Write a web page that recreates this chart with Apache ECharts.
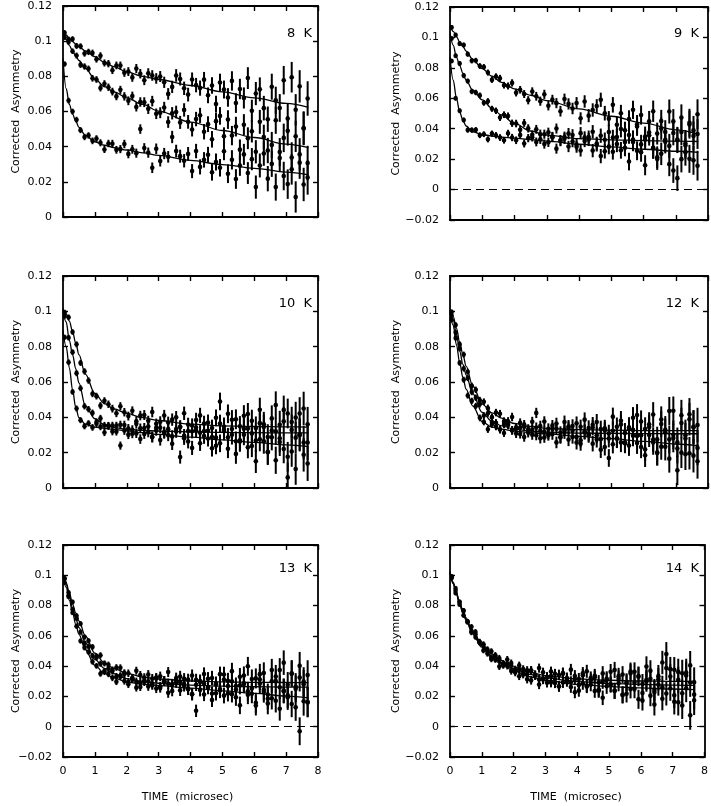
<!DOCTYPE html>
<html><head><meta charset="utf-8">
<script src="https://cdn.jsdelivr.net/npm/echarts@6/dist/echarts.min.js"></script>
<style>html,body{margin:0;padding:0;background:#fff;}#c{width:711px;height:806px;}</style>
</head><body><div id="c"></div>
<script>
const times = [0.05,0.175,0.3,0.425,0.55,0.675,0.8,0.925,1.05,1.175,
1.3,1.425,1.55,1.675,1.8,1.925,2.05,2.175,2.3,2.425,
2.55,2.675,2.8,2.925,3.05,3.175,3.3,3.425,3.55,3.675,
3.8,3.925,4.05,4.175,4.3,4.425,4.55,4.675,4.8,4.925,
5.05,5.175,5.3,5.425,5.55,5.675,5.8,5.925,6.05,6.175,
6.3,6.425,6.55,6.675,6.8,6.925,7.05,7.175,7.3,7.425,
7.55,7.675];
const errs = [0.0015,0.0016,0.0016,0.0017,0.0017,0.0018,0.0018,0.0019,0.0019,0.0020,
0.0020,0.0021,0.0022,0.0022,0.0023,0.0024,0.0025,0.0025,0.0026,0.0027,
0.0028,0.0029,0.0030,0.0030,0.0031,0.0032,0.0033,0.0035,0.0036,0.0037,
0.0038,0.0039,0.0040,0.0041,0.0043,0.0044,0.0045,0.0047,0.0048,0.0050,
0.0051,0.0053,0.0055,0.0056,0.0058,0.0060,0.0062,0.0063,0.0066,0.0068,
0.0070,0.0072,0.0074,0.0077,0.0079,0.0081,0.0084,0.0087,0.0089,0.0092,
0.0095,0.0098];

// 8 K
const a8 = [0.1048,0.1010,0.1012,0.0973,0.0971,0.0930,0.0939,0.0933,0.0897,0.0917,
0.0876,0.0872,0.0835,0.0862,0.0861,0.0821,0.0827,0.0794,0.0844,0.0815,
0.0778,0.0817,0.0805,0.0788,0.0799,0.0766,0.0700,0.0740,0.0805,0.0785,
0.0732,0.0696,0.0782,0.0750,0.0733,0.0781,0.0692,0.0748,0.0642,0.0765,
0.0725,0.0680,0.0774,0.0648,0.0728,0.0677,0.0790,0.0604,0.0702,0.0726,
0.0619,0.0556,0.0741,0.0664,0.0620,0.0778,0.0560,0.0795,0.0610,0.0743,
0.0506,0.0674];
const b8 = [0.1022,0.0995,0.0943,0.0918,0.0865,0.0856,0.0843,0.0789,0.0782,0.0734,
0.0758,0.0738,0.0713,0.0686,0.0723,0.0686,0.0661,0.0688,0.0626,0.0654,
0.0653,0.0615,0.0659,0.0587,0.0593,0.0623,0.0540,0.0590,0.0597,0.0538,
0.0609,0.0541,0.0498,0.0557,0.0578,0.0485,0.0528,0.0442,0.0545,0.0575,
0.0459,0.0554,0.0463,0.0514,0.0383,0.0525,0.0448,0.0487,0.0371,0.0541,
0.0455,0.0378,0.0410,0.0550,0.0335,0.0450,0.0490,0.0271,0.0459,0.0356,
0.0503,0.0307];
const c8 = [0.0870,0.0662,0.0600,0.0553,0.0494,0.0455,0.0464,0.0433,0.0446,0.0422,
0.0384,0.0418,0.0417,0.0382,0.0386,0.0415,0.0359,0.0385,0.0363,0.0500,
0.0392,0.0366,0.0280,0.0388,0.0318,0.0361,0.0342,0.0455,0.0375,0.0346,
0.0320,0.0359,0.0261,0.0375,0.0285,0.0325,0.0354,0.0254,0.0313,0.0280,
0.0374,0.0246,0.0325,0.0216,0.0292,0.0356,0.0250,0.0329,0.0170,0.0293,
0.0361,0.0218,0.0302,0.0170,0.0370,0.0233,0.0187,0.0338,0.0114,0.0309,
0.0185,0.0225];
// 9 K
const a9 = [0.1066,0.1016,0.0959,0.0950,0.0890,0.0847,0.0848,0.0812,0.0806,0.0769,
0.0721,0.0743,0.0732,0.0686,0.0681,0.0701,0.0637,0.0656,0.0628,0.0587,
0.0644,0.0613,0.0581,0.0626,0.0551,0.0591,0.0568,0.0515,0.0595,0.0563,
0.0533,0.0569,0.0468,0.0579,0.0486,0.0523,0.0549,0.0590,0.0502,0.0466,
0.0557,0.0426,0.0502,0.0390,0.0463,0.0524,0.0415,0.0490,0.0329,0.0449,
0.0515,0.0368,0.0450,0.0315,0.0513,0.0372,0.0324,0.0473,0.0246,0.0439,
0.0389,0.0495];
const b9 = [0.0993,0.0880,0.0829,0.0749,0.0713,0.0645,0.0638,0.0619,0.0570,0.0581,
0.0531,0.0518,0.0473,0.0492,0.0484,0.0436,0.0434,0.0393,0.0438,0.0402,
0.0360,0.0396,0.0330,0.0364,0.0376,0.0344,0.0401,0.0320,0.0345,0.0368,
0.0316,0.0281,0.0371,0.0342,0.0329,0.0380,0.0295,0.0354,0.0252,0.0378,
0.0342,0.0299,0.0398,0.0275,0.0359,0.0312,0.0428,0.0246,0.0348,0.0375,
0.0272,0.0212,0.0401,0.0327,0.0287,0.0448,0.0075,0.0378,0.0290,0.0427,
0.0192,0.0365];
const c9 = [0.0845,0.0600,0.0518,0.0457,0.0391,0.0391,0.0393,0.0357,0.0364,0.0330,
0.0368,0.0357,0.0342,0.0324,0.0370,0.0342,0.0324,0.0358,0.0303,0.0338,
0.0344,0.0313,0.0364,0.0299,0.0311,0.0347,0.0269,0.0324,0.0336,0.0283,
0.0359,0.0296,0.0257,0.0320,0.0345,0.0256,0.0302,0.0220,0.0327,0.0282,
0.0248,0.0346,0.0258,0.0312,0.0184,0.0329,0.0255,0.0297,0.0160,0.0357,
0.0274,0.0201,0.0235,0.0379,0.0167,0.0125,0.0328,0.0200,0.0302,0.0202,
0.0352,0.0157];
// 10 K
const a10 = [0.0994,0.0966,0.0883,0.0813,0.0708,0.0660,0.0608,0.0533,0.0520,0.0466,
0.0494,0.0474,0.0449,0.0423,0.0463,0.0429,0.0407,0.0437,0.0378,0.0410,
0.0413,0.0380,0.0430,0.0363,0.0375,0.0410,0.0333,0.0387,0.0400,0.0346,
0.0423,0.0359,0.0321,0.0385,0.0411,0.0323,0.0371,0.0289,0.0397,0.0490,
0.0321,0.0420,0.0334,0.0389,0.0263,0.0409,0.0337,0.0380,0.0269,0.0443,
0.0361,0.0289,0.0325,0.0470,0.0260,0.0378,0.0422,0.0207,0.0399,0.0299,
0.0450,0.0257];
const b10 = [0.0973,0.0851,0.0769,0.0650,0.0565,0.0463,0.0446,0.0425,0.0374,0.0394,
0.0354,0.0353,0.0320,0.0353,0.0358,0.0325,0.0337,0.0307,0.0363,0.0338,
0.0306,0.0348,0.0288,0.0326,0.0341,0.0311,0.0371,0.0292,0.0320,0.0345,
0.0296,0.0263,0.0354,0.0326,0.0313,0.0365,0.0280,0.0340,0.0239,0.0365,
0.0330,0.0287,0.0386,0.0264,0.0349,0.0302,0.0419,0.0238,0.0339,0.0367,
0.0264,0.0205,0.0394,0.0321,0.0281,0.0442,0.0060,0.0373,0.0285,0.0422,
0.0188,0.0361];
const c10 = [0.0853,0.0712,0.0544,0.0450,0.0384,0.0350,0.0366,0.0343,0.0364,0.0347,
0.0314,0.0351,0.0353,0.0319,0.0240,0.0357,0.0302,0.0330,0.0309,0.0277,
0.0340,0.0316,0.0289,0.0341,0.0271,0.0316,0.0298,0.0250,0.0334,0.0175,
0.0282,0.0323,0.0227,0.0342,0.0253,0.0294,0.0324,0.0225,0.0285,0.0253,
0.0348,0.0222,0.0301,0.0193,0.0270,0.0335,0.0230,0.0309,0.0151,0.0276,
0.0345,0.0202,0.0287,0.0157,0.0358,0.0221,0.0177,0.0329,0.0107,0.0304,
0.0257,0.0138];
// 12 K
const a12 = [0.0996,0.0923,0.0814,0.0755,0.0658,0.0578,0.0556,0.0497,0.0488,0.0452,
0.0401,0.0427,0.0420,0.0378,0.0378,0.0402,0.0343,0.0369,0.0347,0.0313,
0.0375,0.0425,0.0324,0.0376,0.0307,0.0353,0.0336,0.0289,0.0374,0.0348,
0.0324,0.0366,0.0270,0.0387,0.0299,0.0342,0.0374,0.0276,0.0338,0.0308,
0.0404,0.0279,0.0360,0.0253,0.0332,0.0398,0.0295,0.0376,0.0219,0.0345,
0.0416,0.0275,0.0362,0.0233,0.0436,0.0301,0.0258,0.0412,0.0191,0.0389,
0.0344,0.0227];
const b12 = [0.0978,0.0880,0.0789,0.0676,0.0622,0.0543,0.0511,0.0475,0.0410,0.0423,
0.0374,0.0369,0.0332,0.0361,0.0363,0.0326,0.0336,0.0305,0.0359,0.0334,
0.0301,0.0342,0.0282,0.0319,0.0335,0.0305,0.0365,0.0286,0.0314,0.0339,
0.0289,0.0257,0.0347,0.0319,0.0306,0.0358,0.0274,0.0334,0.0232,0.0170,
0.0324,0.0282,0.0381,0.0259,0.0343,0.0296,0.0413,0.0232,0.0334,0.0361,
0.0258,0.0199,0.0388,0.0315,0.0275,0.0437,0.0223,0.0368,0.0280,0.0417,
0.0183,0.0356];
const c12 = [0.0952,0.0849,0.0708,0.0613,0.0523,0.0493,0.0464,0.0397,0.0374,0.0332,
0.0361,0.0348,0.0331,0.0311,0.0356,0.0327,0.0308,0.0342,0.0288,0.0323,
0.0330,0.0299,0.0351,0.0286,0.0299,0.0335,0.0258,0.0314,0.0327,0.0274,
0.0351,0.0289,0.0251,0.0315,0.0340,0.0251,0.0299,0.0217,0.0325,0.0280,
0.0247,0.0346,0.0258,0.0312,0.0240,0.0329,0.0255,0.0298,0.0185,0.0300,
0.0274,0.0200,0.0234,0.0330,0.0166,0.0283,0.0100,0.0200,0.0298,0.0197,
0.0346,0.0151];
// 13 K
const a13 = [0.0978,0.0859,0.0824,0.0733,0.0680,0.0592,0.0567,0.0527,0.0465,0.0472,
0.0418,0.0409,0.0368,0.0391,0.0389,0.0348,0.0353,0.0319,0.0370,0.0341,
0.0305,0.0345,0.0283,0.0319,0.0333,0.0302,0.0361,0.0281,0.0308,0.0332,
0.0282,0.0248,0.0338,0.0309,0.0296,0.0348,0.0263,0.0322,0.0221,0.0347,
0.0311,0.0269,0.0367,0.0245,0.0330,0.0282,0.0399,0.0218,0.0319,0.0347,
0.0244,0.0185,0.0374,0.0301,0.0261,0.0423,0.0208,0.0353,0.0265,0.0402,
0.0168,0.0341];
const b13 = [0.0978,0.0886,0.0774,0.0715,0.0625,0.0552,0.0529,0.0468,0.0456,0.0416,
0.0361,0.0385,0.0376,0.0333,0.0332,0.0355,0.0296,0.0321,0.0298,0.0263,
0.0325,0.0300,0.0274,0.0325,0.0256,0.0301,0.0284,0.0236,0.0321,0.0294,
0.0270,0.0311,0.0215,0.0105,0.0243,0.0285,0.0316,0.0219,0.0280,0.0249,
0.0345,0.0220,0.0300,0.0194,0.0272,0.0338,0.0234,0.0315,0.0158,0.0284,
0.0355,0.0213,0.0300,0.0171,0.0374,0.0238,0.0195,0.0349,0.0128,0.0325,
0.0280,0.0163];
const c13 = [0.0952,0.0867,0.0753,0.0664,0.0566,0.0522,0.0493,0.0429,0.0402,0.0350,
0.0368,0.0348,0.0323,0.0297,0.0337,0.0302,0.0281,0.0313,0.0258,0.0291,
0.0297,0.0266,0.0318,0.0252,0.0265,0.0301,0.0224,0.0279,0.0293,0.0240,
0.0316,0.0253,0.0214,0.0277,0.0302,0.0213,0.0259,0.0177,0.0284,0.0239,
0.0205,0.0303,0.0215,0.0269,0.0141,0.0286,0.0211,0.0253,0.0140,0.0312,
0.0229,0.0154,0.0188,0.0331,0.0119,0.0235,0.0277,0.0150,0.0250,-0.0030,
0.0298,0.0160];
// 14 K
const a14 = [0.0984,0.0914,0.0823,0.0767,0.0694,0.0660,0.0626,0.0561,0.0539,0.0483,
0.0498,0.0472,0.0441,0.0409,0.0444,0.0404,0.0378,0.0405,0.0345,0.0373,
0.0373,0.0338,0.0387,0.0318,0.0330,0.0365,0.0288,0.0342,0.0355,0.0301,
0.0377,0.0314,0.0276,0.0340,0.0366,0.0278,0.0326,0.0245,0.0352,0.0308,
0.0276,0.0375,0.0289,0.0344,0.0218,0.0364,0.0292,0.0335,0.0223,0.0397,
0.0316,0.0243,0.0279,0.0424,0.0480,0.0332,0.0376,0.0161,0.0353,0.0254,
0.0405,0.0212];
const b14 = [0.0993,0.0900,0.0807,0.0765,0.0694,0.0631,0.0610,0.0557,0.0545,0.0503,
0.0446,0.0466,0.0452,0.0405,0.0401,0.0420,0.0358,0.0379,0.0352,0.0313,
0.0369,0.0341,0.0312,0.0360,0.0290,0.0334,0.0315,0.0266,0.0349,0.0321,
0.0295,0.0335,0.0238,0.0353,0.0265,0.0306,0.0337,0.0238,0.0298,0.0267,
0.0363,0.0237,0.0317,0.0210,0.0288,0.0353,0.0250,0.0330,0.0173,0.0299,
0.0369,0.0228,0.0314,0.0185,0.0387,0.0252,0.0208,0.0362,0.0140,0.0338,
0.0292,0.0175];
const c14 = [0.0983,0.0883,0.0824,0.0736,0.0692,0.0622,0.0592,0.0561,0.0504,0.0511,
0.0456,0.0443,0.0397,0.0418,0.0413,0.0368,0.0371,0.0333,0.0380,0.0347,
0.0306,0.0343,0.0278,0.0311,0.0325,0.0292,0.0349,0.0267,0.0292,0.0315,
0.0262,0.0227,0.0315,0.0285,0.0271,0.0321,0.0236,0.0294,0.0191,0.0316,
0.0280,0.0237,0.0334,0.0211,0.0295,0.0247,0.0363,0.0181,0.0282,0.0309,
0.0205,0.0146,0.0334,0.0260,0.0219,0.0380,0.0165,0.0309,0.0221,0.0357,
0.0075,0.0294];

// fitted curves, sampled at fitT
const fitT = [0,0.1,0.2,0.3,0.4,0.5,0.7,1,1.3,1.6,2,2.5,3,4,5,6,7,7.7];
const fa8 = [0.1055,0.1035,0.1015,0.0998,0.0982,0.0968,0.0945,0.0912,0.0880,0.0855,0.0825,0.0800,0.0782,0.0748,0.0712,0.0678,0.0646,0.0624];
const fb8 = [0.1045,0.1010,0.0975,0.0945,0.0915,0.0890,0.0845,0.0785,0.0742,0.0712,0.0678,0.0640,0.0602,0.0540,0.0492,0.0452,0.0415,0.0394];
const fc8 = [0.0900,0.0730,0.0640,0.0585,0.0545,0.0510,0.0465,0.0428,0.0408,0.0395,0.0381,0.0365,0.0350,0.0322,0.0298,0.0277,0.0255,0.0240];
const fa9 = [0.1075,0.1040,0.1005,0.0970,0.0940,0.0910,0.0858,0.0795,0.0745,0.0705,0.0662,0.0620,0.0585,0.0530,0.0482,0.0437,0.0393,0.0365];
const fb9 = [0.1030,0.0950,0.0870,0.0815,0.0765,0.0720,0.0655,0.0590,0.0535,0.0490,0.0435,0.0385,0.0358,0.0335,0.0327,0.0322,0.0318,0.0316];
const fc9 = [0.0870,0.0720,0.0600,0.0510,0.0455,0.0418,0.0380,0.0362,0.0352,0.0345,0.0338,0.0328,0.0318,0.0298,0.0280,0.0265,0.0252,0.0245];
const fa10 = [0.1015,0.0985,0.0945,0.0885,0.0820,0.0755,0.0645,0.0535,0.0478,0.0448,0.0422,0.0398,0.0382,0.0362,0.0352,0.0348,0.0346,0.0345];
const fb10 = [0.1000,0.0940,0.0835,0.0755,0.0675,0.0595,0.0465,0.0392,0.0358,0.0342,0.0332,0.0326,0.0322,0.0318,0.0315,0.0313,0.0312,0.0312];
const fc10 = [0.0890,0.0800,0.0680,0.0555,0.0455,0.0398,0.0362,0.0345,0.0338,0.0332,0.0323,0.0313,0.0303,0.0288,0.0272,0.0258,0.0244,0.0235];
const fa12 = [0.1005,0.0970,0.0905,0.0825,0.0755,0.0690,0.0580,0.0475,0.0425,0.0395,0.0365,0.0348,0.0338,0.0330,0.0327,0.0325,0.0325,0.0325];
const fb12 = [0.1000,0.0950,0.0870,0.0775,0.0700,0.0640,0.0535,0.0428,0.0378,0.0352,0.0333,0.0322,0.0316,0.0311,0.0309,0.0308,0.0307,0.0307];
const fc12 = [0.0995,0.0920,0.0810,0.0710,0.0625,0.0560,0.0465,0.0375,0.0345,0.0333,0.0322,0.0314,0.0306,0.0292,0.0279,0.0264,0.0249,0.0238];
const fa13 = [0.1000,0.0950,0.0885,0.0810,0.0752,0.0698,0.0600,0.0485,0.0422,0.0385,0.0352,0.0328,0.0315,0.0302,0.0296,0.0293,0.0292,0.0291];
const fb13 = [0.1000,0.0940,0.0865,0.0785,0.0715,0.0655,0.0555,0.0445,0.0385,0.0350,0.0318,0.0298,0.0287,0.0275,0.0268,0.0264,0.0262,0.0261];
const fc13 = [0.0995,0.0920,0.0835,0.0755,0.0675,0.0610,0.0510,0.0405,0.0352,0.0322,0.0295,0.0281,0.0272,0.0255,0.0237,0.0220,0.0202,0.0190];
const fa14 = [0.1025,0.0955,0.0885,0.0825,0.0770,0.0720,0.0635,0.0545,0.0482,0.0438,0.0395,0.0360,0.0338,0.0316,0.0307,0.0302,0.0300,0.0300];
const fb14 = [0.1020,0.0950,0.0880,0.0818,0.0762,0.0712,0.0625,0.0535,0.0470,0.0425,0.0382,0.0345,0.0322,0.0298,0.0286,0.0279,0.0275,0.0273];
const fc14 = [0.1015,0.0945,0.0875,0.0810,0.0755,0.0705,0.0618,0.0525,0.0460,0.0415,0.0370,0.0330,0.0307,0.0280,0.0265,0.0256,0.0249,0.0245];

const panelLabels = ['8  K','9  K','10  K','12  K','13  K','14  K'];
const yMins = [0,-0.02,0,0,-0.02,-0.02];
const yMax = 0.12;
const yStep = 0.02;
const xMax = 8;
const yTitle = 'Corrected  Asymmetry';
const xTitle = 'TIME  (microsec)';
const pointSets = [[a8,b8,c8],[a9,b9,c9],[a10,b10,c10],[a12,b12,c12],[a13,b13,c13],[a14,b14,c14]];
const fitSets = [[fa8,fb8,fc8],[fa9,fb9,fc9],[fa10,fb10,fc10],[fa12,fb12,fc12],[fa13,fb13,fc13],[fa14,fb14,fc14]];

// layout
const FONT = '"DejaVu Sans", Verdana, sans-serif';
const layout = [
  {left:63, top:6, width:255, height:211},
  {left:450, top:7, width:258, height:213},
  {left:63, top:276, width:255, height:212},
  {left:450, top:276, width:258, height:212},
  {left:63, top:545, width:255, height:212},
  {left:450, top:545, width:258, height:212}
];
const AX = {color:'#000', width:1.8};
const TK = {inside:true, length:5, lineStyle:{color:'#000', width:1.4}};

const grid = layout.map(l => ({left:l.left, top:l.top, width:l.width, height:l.height}));
const xAxis = [], yAxis = [], series = [];
const fmtY = v => String(Math.round(v*1000)/1000).replace('-', '\u2212');

layout.forEach((l, i) => {
  xAxis.push({gridIndex:i, type:'value', min:0, max:xMax, interval:1, position:'bottom',
    axisLine:{show:true, onZero:false, lineStyle:AX}, axisTick:TK, splitLine:{show:false},
    axisLabel:{show:i>=4, margin:9, color:'#000', fontSize:11, fontFamily:FONT}});
  xAxis.push({gridIndex:i, type:'value', min:0, max:xMax, interval:1, position:'top',
    axisLine:{show:true, onZero:false, lineStyle:AX}, axisTick:TK, splitLine:{show:false},
    axisLabel:{show:false}});
  yAxis.push({gridIndex:i, type:'value', min:yMins[i], max:yMax, interval:yStep, position:'left',
    axisLine:{show:true, onZero:false, lineStyle:AX}, axisTick:TK, splitLine:{show:false},
    axisLabel:{show:true, margin:11, color:'#000', fontSize:11, fontFamily:FONT, formatter:fmtY}});
  yAxis.push({gridIndex:i, type:'value', min:yMins[i], max:yMax, interval:yStep, position:'right',
    axisLine:{show:true, onZero:false, lineStyle:AX}, axisTick:TK, splitLine:{show:false},
    axisLabel:{show:false}});

  pointSets[i].forEach(vals => {
    series.push({
      type:'custom', xAxisIndex:2*i, yAxisIndex:2*i, clip:true, silent:true, z:3,
      data: times.map((t, j) => [t, vals[j], errs[j]]),
      renderItem: (params, api) => {
        const x = api.value(0), y = api.value(1), e = api.value(2);
        const p = api.coord([x, y]);
        const hi = api.coord([x, y + e]);
        const lo = api.coord([x, y - e]);
        return {type:'group', children:[
          {type:'line', shape:{x1:p[0], y1:hi[1], x2:p[0], y2:lo[1]}, style:{stroke:'#000', lineWidth:2}},
          {type:'circle', shape:{cx:p[0], cy:p[1], r:2.3}, style:{fill:'#000'}}
        ]};
      }
    });
  });
  fitSets[i].forEach((f, k) => {
    const s = {
      type:'line', xAxisIndex:2*i, yAxisIndex:2*i, silent:true, z:4,
      data: fitT.map((t, j) => [t, f[j]]),
      smooth:0.35, smoothMonotone:'x', symbol:'none', showSymbol:false,
      lineStyle:{color:'#000', width:1.3}
    };
    if (k === 0 && yMins[i] < 0) {
      s.markLine = {silent:true, symbol:'none', label:{show:false}, animation:false,
        lineStyle:{type:[8,5], color:'#000', width:1}, data:[{yAxis:0}]};
    }
    series.push(s);
  });
});

const title = panelLabels.map((txt, i) => ({
  text: txt, padding:0,
  right: (i % 2 === 0) ? 399 : 12,
  top: [27, 297, 562][Math.floor(i / 2)],
  textStyle:{fontSize:13, fontWeight:'normal', color:'#000', fontFamily:FONT}
}));

const graphic = [];
layout.forEach((l, i) => {
  graphic.push({type:'text', x: (i % 2 === 0) ? 16 : 396, y: l.top + l.height / 2, rotation: Math.PI / 2,
    style:{text:yTitle, fill:'#000', font:'11px ' + FONT, align:'center', verticalAlign:'middle',
      textAlign:'center', textVerticalAlign:'middle'}});
});
[4, 5].forEach(i => {
  const l = layout[i];
  graphic.push({type:'text', x: l.left + l.width / 2 - 3, y: 797,
    style:{text:xTitle, fill:'#000', font:'11px ' + FONT, align:'center', verticalAlign:'middle',
      textAlign:'center', textVerticalAlign:'middle'}});
});

const chart = echarts.init(document.getElementById('c'), null, {renderer:'canvas'});
chart.setOption({animation:false, backgroundColor:'#fff', title, grid, xAxis, yAxis, series, graphic});
</script>
</body></html>
